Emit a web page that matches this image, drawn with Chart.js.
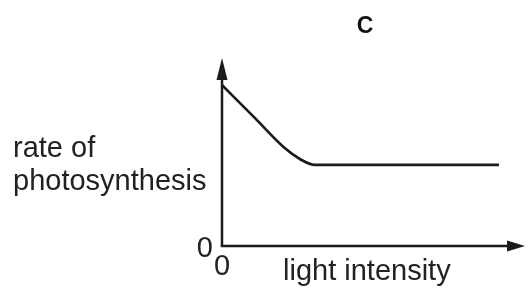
<!DOCTYPE html>
<html lang="en">
<head>
    <meta charset="UTF-8">
    <title>rate of photosynthesis - C</title>
    <script src="https://cdn.jsdelivr.net/npm/chart.js"></script>
    <style>
        html, body {
            margin: 0;
            padding: 0;
            background: #fff;
        }

        .wrap {
            width: 528px;
            height: 290px;
        }
    </style>
</head>
<body>
<div class="wrap">
    <canvas id="graphC" width="528" height="290"></canvas>
</div>

<script>
    // values (arbitrary units, axes run 0..10)
    const lightIntensity = [0, 1.09, 2.07, 2.57, 3.06, 9.14];
    const rateOfPhotosynthesis = [8.56, 6.80, 5.21, 4.63, 4.31, 4.31];
    const xTicks = [0];
    const yTicks = [0];

    const graphTitle = 'C';
    const yLabel = ['rate of', 'photosynthesis'];
    const xLabel = 'light intensity';

    const ink = '#1b1b1b';
    const textFont = '"Liberation Sans", Arial, sans-serif';

    // axes with arrow heads + labels, drawn on top of the hidden scales
    const sketchAxes = {
        id: 'sketchAxes',
        afterDraw(chart) {
            const ctx = chart.ctx;
            const xs = chart.scales.x;
            const ys = chart.scales.y;
            const area = chart.chartArea;
            const ox = xs.getPixelForValue(0);
            const oy = ys.getPixelForValue(0);

            ctx.save();
            ctx.strokeStyle = ink;
            ctx.fillStyle = ink;
            ctx.lineWidth = 2.5;

            // y axis
            ctx.beginPath();
            ctx.moveTo(ox, oy);
            ctx.lineTo(ox, area.top + 20);
            ctx.stroke();
            ctx.beginPath();
            ctx.moveTo(ox, area.top);
            ctx.lineTo(ox - 5.5, area.top + 22);
            ctx.lineTo(ox + 5.5, area.top + 22);
            ctx.closePath();
            ctx.fill();

            // x axis
            ctx.beginPath();
            ctx.moveTo(ox - 1.25, oy);
            ctx.lineTo(area.right - 16, oy);
            ctx.stroke();
            ctx.beginPath();
            ctx.moveTo(area.right, oy);
            ctx.lineTo(area.right - 18, oy - 5.5);
            ctx.lineTo(area.right - 18, oy + 5.5);
            ctx.closePath();
            ctx.fill();

            // text
            ctx.fillStyle = '#222';
            ctx.font = '29px ' + textFont;
            ctx.textBaseline = 'alphabetic';

            ctx.textAlign = 'right';
            yTicks.forEach(v => ctx.fillText(String(v), ox - 9, ys.getPixelForValue(v) + 11));
            ctx.textAlign = 'center';
            xTicks.forEach(v => ctx.fillText(String(v), xs.getPixelForValue(v), oy + 29));

            ctx.textAlign = 'left';
            ctx.fillText(yLabel[0], 13, 157);
            ctx.fillText(yLabel[1], 13, 190);
            ctx.fillText(xLabel, 283, 280);

            ctx.font = 'bold 23px ' + textFont;
            ctx.textAlign = 'center';
            ctx.fillStyle = '#111';
            ctx.fillText(graphTitle, 365, 33);
            ctx.restore();
        }
    };

    new Chart(document.getElementById('graphC'), {
        type: 'line',
        data: {
            datasets: [{
                label: 'rate of photosynthesis',
                data: lightIntensity.map((x, i) => ({ x: x, y: rateOfPhotosynthesis[i] })),
                borderColor: ink,
                borderWidth: 2.7,
                pointRadius: 0,
                fill: false,
                cubicInterpolationMode: 'monotone'
            }]
        },
        options: {
            responsive: false,
            animation: false,
            events: [],
            layout: {
                padding: { left: 222, right: 3, top: 58, bottom: 44 }
            },
            plugins: {
                legend: { display: false },
                tooltip: { enabled: false },
                title: { display: false }
            },
            scales: {
                x: { type: 'linear', min: 0, max: 10, display: false },
                y: { type: 'linear', min: 0, max: 10, display: false }
            }
        },
        plugins: [sketchAxes]
    });
</script>
</body>
</html>
